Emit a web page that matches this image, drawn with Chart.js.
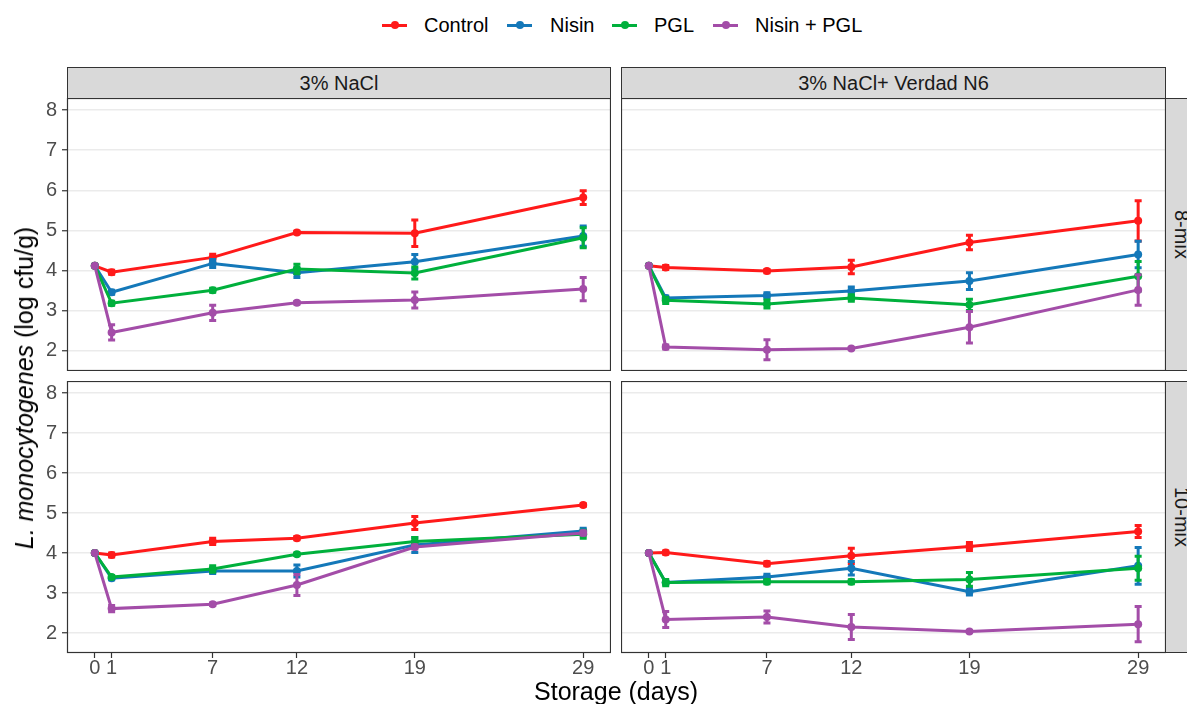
<!DOCTYPE html>
<html>
<head>
<meta charset="utf-8">
<script src="https://cdn.jsdelivr.net/npm/chart.js@4.4.0/dist/chart.umd.min.js"></script>
<style>
  html, body { margin:0; padding:0; }
  body { width:1187px; height:704px; overflow:hidden; background:#fff; position:relative;
         font-family:"Liberation Sans", Arial, sans-serif; }
  canvas { position:absolute; }
  .strip { position:absolute; background:#d9d9d9; border:1px solid #333; box-sizing:border-box;
           display:flex; align-items:center; justify-content:center; font-size:20px; color:#1a1a1a; }
  .strip.v span { writing-mode: vertical-rl; }
  .leg-sym { position:absolute; width:25px; height:3px; top:23.5px; }
  .leg-sym i { position:absolute; left:8.5px; top:-2.5px; width:8px; height:8px; border-radius:50%; }
  .leg-txt { position:absolute; top:13px; line-height:24px; font-size:20px; color:#000; white-space:nowrap; }
  .title { position:absolute; font-size:25px; color:#000; white-space:nowrap; line-height:30px; }
</style>
</head>
<body>

<div class="strip" style="left:67px;top:67px;width:544px;height:32px;">3% NaCl</div>
<div class="strip" style="left:621px;top:67px;width:545px;height:32px;">3% NaCl+ Verdad N6</div>
<div class="strip v" style="left:1165px;top:98px;width:32px;height:273px;"><span>8-mix</span></div>
<div class="strip v" style="left:1165px;top:381px;width:32px;height:272px;"><span>10-mix</span></div>

<canvas id="c0" width="589" height="273" style="left:22px;top:98px;"></canvas>
<canvas id="c1" width="545" height="273" style="left:621px;top:98px;"></canvas>
<canvas id="c2" width="589" height="302" style="left:22px;top:381px;"></canvas>
<canvas id="c3" width="545" height="302" style="left:621px;top:381px;"></canvas>

<div id="legend"></div>

<div class="title" style="left:616px;top:676px;transform:translateX(-50%);">Storage (days)</div>
<div class="title" style="left:24px;top:388px;transform:translate(-50%,-50%) rotate(-90deg);"><i>L. monocytogenes</i> (log cfu/g)</div>

<script>
// ---------------- DATA ----------------
const days = [0, 1, 7, 12, 19, 29];
const xTicks = [0, 1, 7, 12, 19, 29];
const yTicks = [2, 3, 4, 5, 6, 7, 8];
const seriesNames = ['Control', 'Nisin', 'PGL', 'Nisin + PGL'];
const colTitles = ['3% NaCl', '3% NaCl+ Verdad N6'];
const rowTitles = ['8-mix', '10-mix'];

// 3% NaCl, 8-mix
const nacl8Control    = [4.12, 3.96, 4.33, 4.95, 4.93, 5.82];
const nacl8ControlErr = [0, 0.05, 0.08, 0.03, 0.33, 0.17];
const nacl8Nisin      = [4.12, 3.46, 4.18, 3.95, 4.22, 4.86];
const nacl8NisinErr   = [0, 0.05, 0.1, 0.12, 0.18, 0.25];
const nacl8PGL        = [4.12, 3.19, 3.51, 4.04, 3.94, 4.82];
const nacl8PGLErr     = [0, 0.05, 0.05, 0.12, 0.15, 0.25];
const nacl8Both       = [4.12, 2.46, 2.95, 3.2, 3.27, 3.54];
const nacl8BothErr    = [0, 0.19, 0.19, 0.03, 0.2, 0.29];

// 3% NaCl + Verdad N6, 8-mix
const verd8Control    = [4.12, 4.08, 3.99, 4.09, 4.7, 5.24];
const verd8ControlErr = [0, 0.05, 0.04, 0.17, 0.18, 0.5];
const verd8Nisin      = [4.12, 3.32, 3.38, 3.49, 3.74, 4.4];
const verd8NisinErr   = [0, 0.05, 0.07, 0.1, 0.21, 0.33];
const verd8PGL        = [4.12, 3.26, 3.17, 3.32, 3.15, 3.86];
const verd8PGLErr     = [0, 0.08, 0.1, 0.08, 0.14, 0.37];
const verd8Both       = [4.12, 2.1, 2.03, 2.06, 2.59, 3.52];
const verd8BothErr    = [0, 0.05, 0.25, 0.02, 0.39, 0.38];

// 3% NaCl, 10-mix
const nacl10Control    = [4.0, 3.95, 4.29, 4.37, 4.75, 5.2];
const nacl10ControlErr = [0, 0.05, 0.08, 0.04, 0.16, 0.03];
const nacl10Nisin      = [4.0, 3.37, 3.55, 3.55, 4.2, 4.55];
const nacl10NisinErr   = [0, 0.04, 0.06, 0.15, 0.19, 0.07];
const nacl10PGL        = [4.0, 3.4, 3.6, 3.97, 4.29, 4.47];
const nacl10PGLErr     = [0, 0.04, 0.08, 0.03, 0.1, 0.1];
const nacl10Both       = [4.0, 2.61, 2.72, 3.2, 4.15, 4.5];
const nacl10BothErr    = [0, 0.08, 0.03, 0.26, 0.05, 0.05];

// 3% NaCl + Verdad N6, 10-mix
const verd10Control    = [4.0, 4.01, 3.73, 3.93, 4.16, 4.54];
const verd10ControlErr = [0, 0.04, 0.05, 0.19, 0.1, 0.15];
const verd10Nisin      = [4.0, 3.26, 3.4, 3.62, 3.03, 3.68];
const verd10NisinErr   = [0, 0.04, 0.07, 0.17, 0.08, 0.46];
const verd10PGL        = [4.0, 3.26, 3.28, 3.28, 3.34, 3.62];
const verd10PGLErr     = [0, 0.08, 0.05, 0.05, 0.17, 0.3];
const verd10Both       = [4.0, 2.34, 2.4, 2.15, 2.04, 2.22];
const verd10BothErr    = [0, 0.2, 0.15, 0.31, 0.02, 0.44];

// ---------------- STYLE ----------------
const colors = ['#ff1a1a', '#1478b9', '#00b03c', '#a34da8'];
const FONT = '"Liberation Sans", Arial, sans-serif';

const panels = [
  { id:'c0', showX:false, showY:true,  means:[nacl8Control, nacl8Nisin, nacl8PGL, nacl8Both],     errs:[nacl8ControlErr, nacl8NisinErr, nacl8PGLErr, nacl8BothErr] },
  { id:'c1', showX:false, showY:false, means:[verd8Control, verd8Nisin, verd8PGL, verd8Both],     errs:[verd8ControlErr, verd8NisinErr, verd8PGLErr, verd8BothErr] },
  { id:'c2', showX:true,  showY:true,  means:[nacl10Control, nacl10Nisin, nacl10PGL, nacl10Both], errs:[nacl10ControlErr, nacl10NisinErr, nacl10PGLErr, nacl10BothErr] },
  { id:'c3', showX:true,  showY:false, means:[verd10Control, verd10Nisin, verd10PGL, verd10Both], errs:[verd10ControlErr, verd10NisinErr, verd10PGLErr, verd10BothErr] }
];

// Legend (HTML)
const legendLefts = [[382, 424], [507, 550], [612, 654], [713, 755]];
const legend = document.getElementById('legend');
seriesNames.forEach((name, i) => {
  const s = document.createElement('div');
  s.className = 'leg-sym';
  s.style.left = legendLefts[i][0] + 'px';
  s.style.background = colors[i];
  const dot = document.createElement('i');
  dot.style.background = colors[i];
  s.appendChild(dot);
  legend.appendChild(s);
  const t = document.createElement('div');
  t.className = 'leg-txt';
  t.style.left = legendLefts[i][1] + 'px';
  t.textContent = name;
  legend.appendChild(t);
});

// Error bars + panel border plugin
const panelPlugin = {
  id: 'panelDeco',
  beforeDatasetDraw(chart, args) {
    const ds = chart.data.datasets[args.index];
    if (!ds.err) return;
    const ctx = chart.ctx, xs = chart.scales.x, ys = chart.scales.y;
    ctx.save();
    ctx.strokeStyle = ds.borderColor;
    ctx.lineWidth = 3;
    ctx.lineCap = 'butt';
    ds.data.forEach((p, j) => {
      const e = ds.err[j];
      if (!e) return;
      const px = xs.getPixelForValue(p.x);
      const y1 = ys.getPixelForValue(p.y + e);
      const y2 = ys.getPixelForValue(p.y - e);
      ctx.beginPath();
      ctx.moveTo(px, y1); ctx.lineTo(px, y2);
      ctx.moveTo(px - 3.5, y1); ctx.lineTo(px + 3.5, y1);
      ctx.moveTo(px - 3.5, y2); ctx.lineTo(px + 3.5, y2);
      ctx.stroke();
    });
    ctx.restore();
  },
  afterDraw(chart) {
    const a = chart.chartArea, ctx = chart.ctx;
    ctx.save();
    ctx.strokeStyle = '#333333';
    ctx.lineWidth = 1.2;
    ctx.strokeRect(a.left + 0.5, a.top + 0.5, a.right - a.left - 1, a.bottom - a.top - 1);
    ctx.restore();
  }
};

function noPad(s) {
  s.paddingTop = 0; s.paddingBottom = 0; s.paddingLeft = 0; s.paddingRight = 0;
}

panels.forEach(p => {
  const datasets = p.means.map((m, i) => ({
    label: seriesNames[i],
    data: days.map((d, j) => ({ x: d, y: m[j] })),
    err: p.errs[i],
    borderColor: colors[i],
    backgroundColor: colors[i],
    pointBackgroundColor: colors[i],
    borderWidth: 3,
    pointRadius: 4,
    pointBorderWidth: 0,
    pointHoverRadius: 4,
    tension: 0,
    order: 3 - i
  }));
  new Chart(document.getElementById(p.id), {
    type: 'line',
    data: { datasets },
    plugins: [panelPlugin],
    options: {
      responsive: false,
      animation: false,
      events: [],
      layout: { padding: 0, autoPadding: false },
      plugins: { legend: { display: false }, tooltip: { enabled: false } },
      scales: {
        x: {
          type: 'linear', min: -1.65, max: 30.65,
          display: p.showX,
          afterBuildTicks: s => { s.ticks = xTicks.map(v => ({ value: v })); },
          afterFit: s => { s.height = p.showX ? 30 : 0; noPad(s); },
          grid: { display: true, drawOnChartArea: false, drawTicks: true, tickLength: 5, tickColor: '#333333', tickWidth: 1.2 },
          border: { display: false },
          ticks: { font: { size: 20, family: FONT }, color: '#4d4d4d', padding: -2, maxRotation: 0, autoSkip: false,
                   callback: v => String(v) }
        },
        y: {
          type: 'linear', min: 1.5, max: 8.3,
          afterBuildTicks: s => { s.ticks = yTicks.map(v => ({ value: v })); },
          afterFit: s => { s.width = p.showY ? 45 : 0; noPad(s); },
          grid: { color: '#ebebeb', lineWidth: 1.5, drawTicks: p.showY, tickLength: 5, tickColor: '#333333', tickWidth: 1.2 },
          border: { display: false },
          ticks: { display: p.showY, font: { size: 20, family: FONT }, color: '#4d4d4d', padding: 5,
                   callback: v => String(v) }
        }
      }
    }
  });
});
</script>
</body>
</html>
